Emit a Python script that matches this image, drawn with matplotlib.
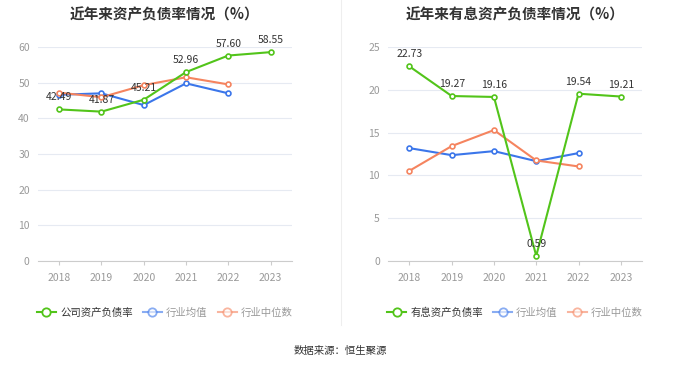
import matplotlib.pyplot as plt
from matplotlib.lines import Line2D

plt.rcParams['font.family'] = ['Noto Sans CJK SC', 'DejaVu Sans']

years = ['2018', '2019', '2020', '2021', '2022', '2023']

# left: asset-liability ratio
company_ratio = [42.49, 41.87, 45.21, 52.96, 57.60, 58.55]
industry_avg = [46.6, 47.0, 43.7, 49.8, 47.0]
industry_median = [47.2, 45.9, 49.3, 51.5, 49.5]

# right: interest-bearing asset-liability ratio
interest_ratio = [22.73, 19.27, 19.16, 0.59, 19.54, 19.21]
interest_avg = [13.18, 12.36, 12.83, 11.66, 12.6]
interest_median = [10.53, 13.42, 15.29, 11.74, 11.04]

GREEN = '#52c41a'
BLUE = '#3b76ea'
ORANGE = '#f5845f'

fig = plt.figure(figsize=(6.8, 3.67), dpi=100)
ax1 = fig.add_axes([0.056, 0.289, 0.373, 0.583])
ax2 = fig.add_axes([0.571, 0.289, 0.373, 0.583])


def draw(ax, main, avg, med, ymax, step, title, main_name):
    x = list(range(len(years)))
    for vals, c in [(avg, BLUE), (med, ORANGE), (main, GREEN)]:
        ax.plot(x[:len(vals)], vals, color=c, lw=1.5, marker='o', ms=3.5,
                mfc='white', mec=c, mew=1.2, zorder=3)
    for xi, v in zip(x, main):
        ax.annotate(f'{v:.2f}', (xi, v), xytext=(0, 5), textcoords='offset points',
                    ha='center', va='bottom', fontsize=7.5, color='#333333', zorder=4)
    ax.set_xlim(-0.5, 5.5)
    ax.set_ylim(0, ymax)
    ax.set_xticks(x)
    ax.set_xticklabels(years)
    ax.set_yticks(range(0, ymax + 1, step))
    ax.tick_params(axis='both', labelsize=7.5, colors='#999999', length=0, pad=6)
    ax.tick_params(axis='x', length=3, color='#cccccc')
    ax.grid(axis='y', color='#e6eaf2', lw=0.8)
    ax.set_axisbelow(True)
    for s in ['top', 'right', 'left']:
        ax.spines[s].set_visible(False)
    ax.spines['bottom'].set_color('#cccccc')
    ax.set_title(title, fontsize=10.5, fontweight='bold', color='#333333', pad=20)

    handles = [Line2D([], [], color=c, lw=1.5, marker='o', ms=6, mfc='white', mec=c,
                      mew=1.3, alpha=a)
               for c, a in ((GREEN, 1.0), (BLUE, 0.6), (ORANGE, 0.6))]
    names = [main_name, '行业均值', '行业中位数']
    leg = ax.legend(handles, names, loc='upper center', bbox_to_anchor=(0.5, -0.175),
                    ncol=3, frameon=False, fontsize=7.5, handlelength=1.8,
                    handletextpad=0.4, columnspacing=1.0)
    for t, c in zip(leg.get_texts(), ['#333333', '#999999', '#999999']):
        t.set_color(c)


draw(ax1, company_ratio, industry_avg, industry_median, 60, 10,
     '近年来资产负债率情况（%）', '公司资产负债率')
draw(ax2, interest_ratio, interest_avg, interest_median, 25, 5,
     '近年来有息资产负债率情况（%）', '有息资产负债率')

fig.add_artist(Line2D([0.5015, 0.5015], [0.115, 1.0], color='#eeeeee', lw=0.8))
fig.text(0.5, 0.043, '数据来源：恒生聚源', ha='center', va='center', fontsize=7.5, color='#333333')

fig.savefig('out.png', dpi=100, facecolor='white')
